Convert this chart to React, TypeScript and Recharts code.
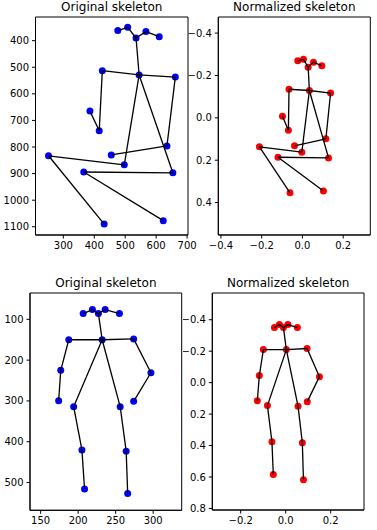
import React from 'react';
import { ScatterChart, Scatter, XAxis, YAxis, ReferenceArea } from 'recharts';

type Pt = [number, number];

// keypoint order: nose, neck, Rsh, Rel, Rwr, Lsh, Lel, Lwr, Rhip, Rknee, Rank, Lhip, Lknee, Lank, Reye, Leye, Rear, Lear
const bones: [number, number][] = [
  [1, 2], [2, 3], [3, 4], [1, 5], [5, 6], [6, 7],
  [1, 8], [8, 9], [9, 10], [1, 11], [11, 12], [12, 13],
  [1, 0], [0, 14], [14, 16], [0, 15], [15, 17],
];

const origA: Pt[] = [
  [535, 390], [545, 529], [426, 513], [416, 739], [386, 665], [662, 537], [635, 796], [455, 830],
  [497, 867], [252, 833], [432, 1090], [654, 897], [366, 894], [623, 1077],
  [508, 350], [567, 366], [476, 362], [610, 385],
];

const normA: Pt[] = [
  [0.028, -0.239], [0.034, -0.129], [-0.066, -0.135], [-0.069, 0.058], [-0.098, -0.008],
  [0.138, -0.117], [0.115, 0.099], [-0.039, 0.132], [-0.003, 0.162], [-0.211, 0.137],
  [-0.061, 0.354], [0.128, 0.189], [-0.12, 0.186], [0.103, 0.345],
  [0.005, -0.276], [0.054, -0.263], [-0.023, -0.269], [0.095, -0.246],
];

const origB: Pt[] = [
  [227, 86], [232, 150], [187.5, 150], [176.8, 225], [174, 299.5], [274, 148], [297, 231], [274, 301],
  [194, 314], [205, 420], [208.5, 516], [256, 314], [264, 423], [266, 527],
  [219, 76], [236, 76], [206.7, 86], [255, 86],
];

const normB: Pt[] = [
  [-0.01, -0.35], [0.003, -0.21], [-0.099, -0.21], [-0.117, -0.045], [-0.126, 0.115],
  [0.095, -0.217], [0.15, -0.038], [0.096, 0.121], [-0.081, 0.146], [-0.061, 0.376],
  [-0.055, 0.584], [0.055, 0.151], [0.074, 0.382], [0.079, 0.618],
  [-0.028, -0.369], [0.01, -0.369], [-0.05, -0.35], [0.052, -0.35],
];

const ticksOrigAX = [300, 400, 500, 600, 700];
const ticksOrigAY = [400, 500, 600, 700, 800, 900, 1000, 1100];
const ticksNormAX = [-0.4, -0.2, 0.0, 0.2];
const ticksNormAY = [-0.4, -0.2, 0.0, 0.2, 0.4];
const ticksOrigBX = [150, 200, 250, 300];
const ticksOrigBY = [100, 200, 300, 400, 500];
const ticksNormBX = [-0.2, 0.0, 0.2];
const ticksNormBY = [-0.4, -0.2, 0.0, 0.2, 0.4, 0.6, 0.8];

const font = '"DejaVu Sans", sans-serif';
const fmtInt = (v: number) => String(v);
const fmtDec = (v: number) => (v < -1e-9 ? '\u2212' : '') + Math.abs(v).toFixed(1);

interface PanelProps {
  title: string;
  pts: Pt[];
  color: string;
  xDom: [number, number];
  yDom: [number, number];
  xTicks: number[];
  yTicks: number[];
  fmt: (v: number) => string;
  chartLeft: number;
  plotLeft: number;
  plotTop: number;
  plotW: number;
  plotH: number;
}

const Panel: React.FC<PanelProps> = (p) => {
  const yW = p.plotLeft - p.chartLeft;
  const mTop = 5;
  const mRight = 14;
  const xH = 25;
  const data = p.pts.map(([x, y]) => ({ x, y }));
  const tickStyle = { fontSize: 10, fill: '#000', fontFamily: font };
  return (
    <>
      <div
        style={{
          position: 'absolute',
          left: p.plotLeft,
          width: p.plotW,
          top: p.plotTop - 17,
          textAlign: 'center',
          fontFamily: font,
          fontSize: 12,
          lineHeight: '14px',
          color: '#000',
        }}
      >
        {p.title}
      </div>
      <div style={{ position: 'absolute', left: p.chartLeft, top: p.plotTop - mTop }}>
        <ScatterChart
          width={yW + p.plotW + mRight}
          height={p.plotH + mTop + xH}
          margin={{ top: mTop, right: mRight, bottom: 0, left: 0 }}
        >
          <XAxis
            type="number"
            dataKey="x"
            domain={p.xDom}
            ticks={p.xTicks}
            allowDataOverflow
            tickFormatter={p.fmt}
            tickSize={3.5}
            tickMargin={3}
            height={xH}
            stroke="#000"
            tick={tickStyle}
            interval={0}
          />
          <YAxis
            type="number"
            dataKey="y"
            domain={p.yDom}
            ticks={p.yTicks}
            reversed
            allowDataOverflow
            tickFormatter={p.fmt}
            tickSize={3.5}
            tickMargin={3}
            width={yW}
            stroke="#000"
            tick={tickStyle}
            interval={0}
          />
          <ReferenceArea
            x1={p.xDom[0]}
            x2={p.xDom[1]}
            y1={p.yDom[0]}
            y2={p.yDom[1]}
            fill="none"
            fillOpacity={0}
            stroke="#000"
            strokeWidth={1}
            strokeOpacity={1}
          />
          <Scatter
            data={data}
            isAnimationActive={false}
            shape={(s: any) => <circle cx={s.cx} cy={s.cy} r={3.5} fill={p.color} />}
          />
          {bones.map(([a, b], i) => (
            <Scatter
              key={i}
              data={[data[a], data[b]]}
              isAnimationActive={false}
              line={{ stroke: '#000', strokeWidth: 1.3 }}
              lineType="joint"
              shape={() => <g />}
            />
          ))}
        </ScatterChart>
      </div>
    </>
  );
};

const App: React.FC = () => {
  return (
    <div style={{ position: 'absolute', left: 0, top: 0, width: 377, height: 530, background: '#fff' }}>
      <Panel
        title="Original skeleton"
        pts={origA}
        color="#0000ff"
        xDom={[210, 703]}
        yDom={[311, 1131]}
        xTicks={ticksOrigAX}
        yTicks={ticksOrigAY}
        fmt={fmtInt}
        chartLeft={0}
        plotLeft={35.5}
        plotTop={17}
        plotW={152.5}
        plotH={218}
      />
      <Panel
        title="Normalized skeleton"
        pts={normA}
        color="#ff0000"
        xDom={[-0.413, 0.333]}
        yDom={[-0.476, 0.553]}
        xTicks={ticksNormAX}
        yTicks={ticksNormAY}
        fmt={fmtDec}
        chartLeft={188}
        plotLeft={218.3}
        plotTop={17}
        plotW={152}
        plotH={218}
      />
      <Panel
        title="Original skeleton"
        pts={origB}
        color="#0000ff"
        xDom={[135.8, 338]}
        yDom={[35.5, 568]}
        xTicks={ticksOrigBX}
        yTicks={ticksOrigBY}
        fmt={fmtInt}
        chartLeft={0}
        plotLeft={30}
        plotTop={292.7}
        plotW={151.7}
        plotH={217.3}
      />
      <Panel
        title="Normalized skeleton"
        pts={normB}
        color="#ff0000"
        xDom={[-0.326, 0.348]}
        yDom={[-0.57, 0.81]}
        xTicks={ticksNormBX}
        yTicks={ticksNormBY}
        fmt={fmtDec}
        chartLeft={183}
        plotLeft={212.3}
        plotTop={292.7}
        plotW={151.7}
        plotH={217}
      />
    </div>
  );
};

export default App;
